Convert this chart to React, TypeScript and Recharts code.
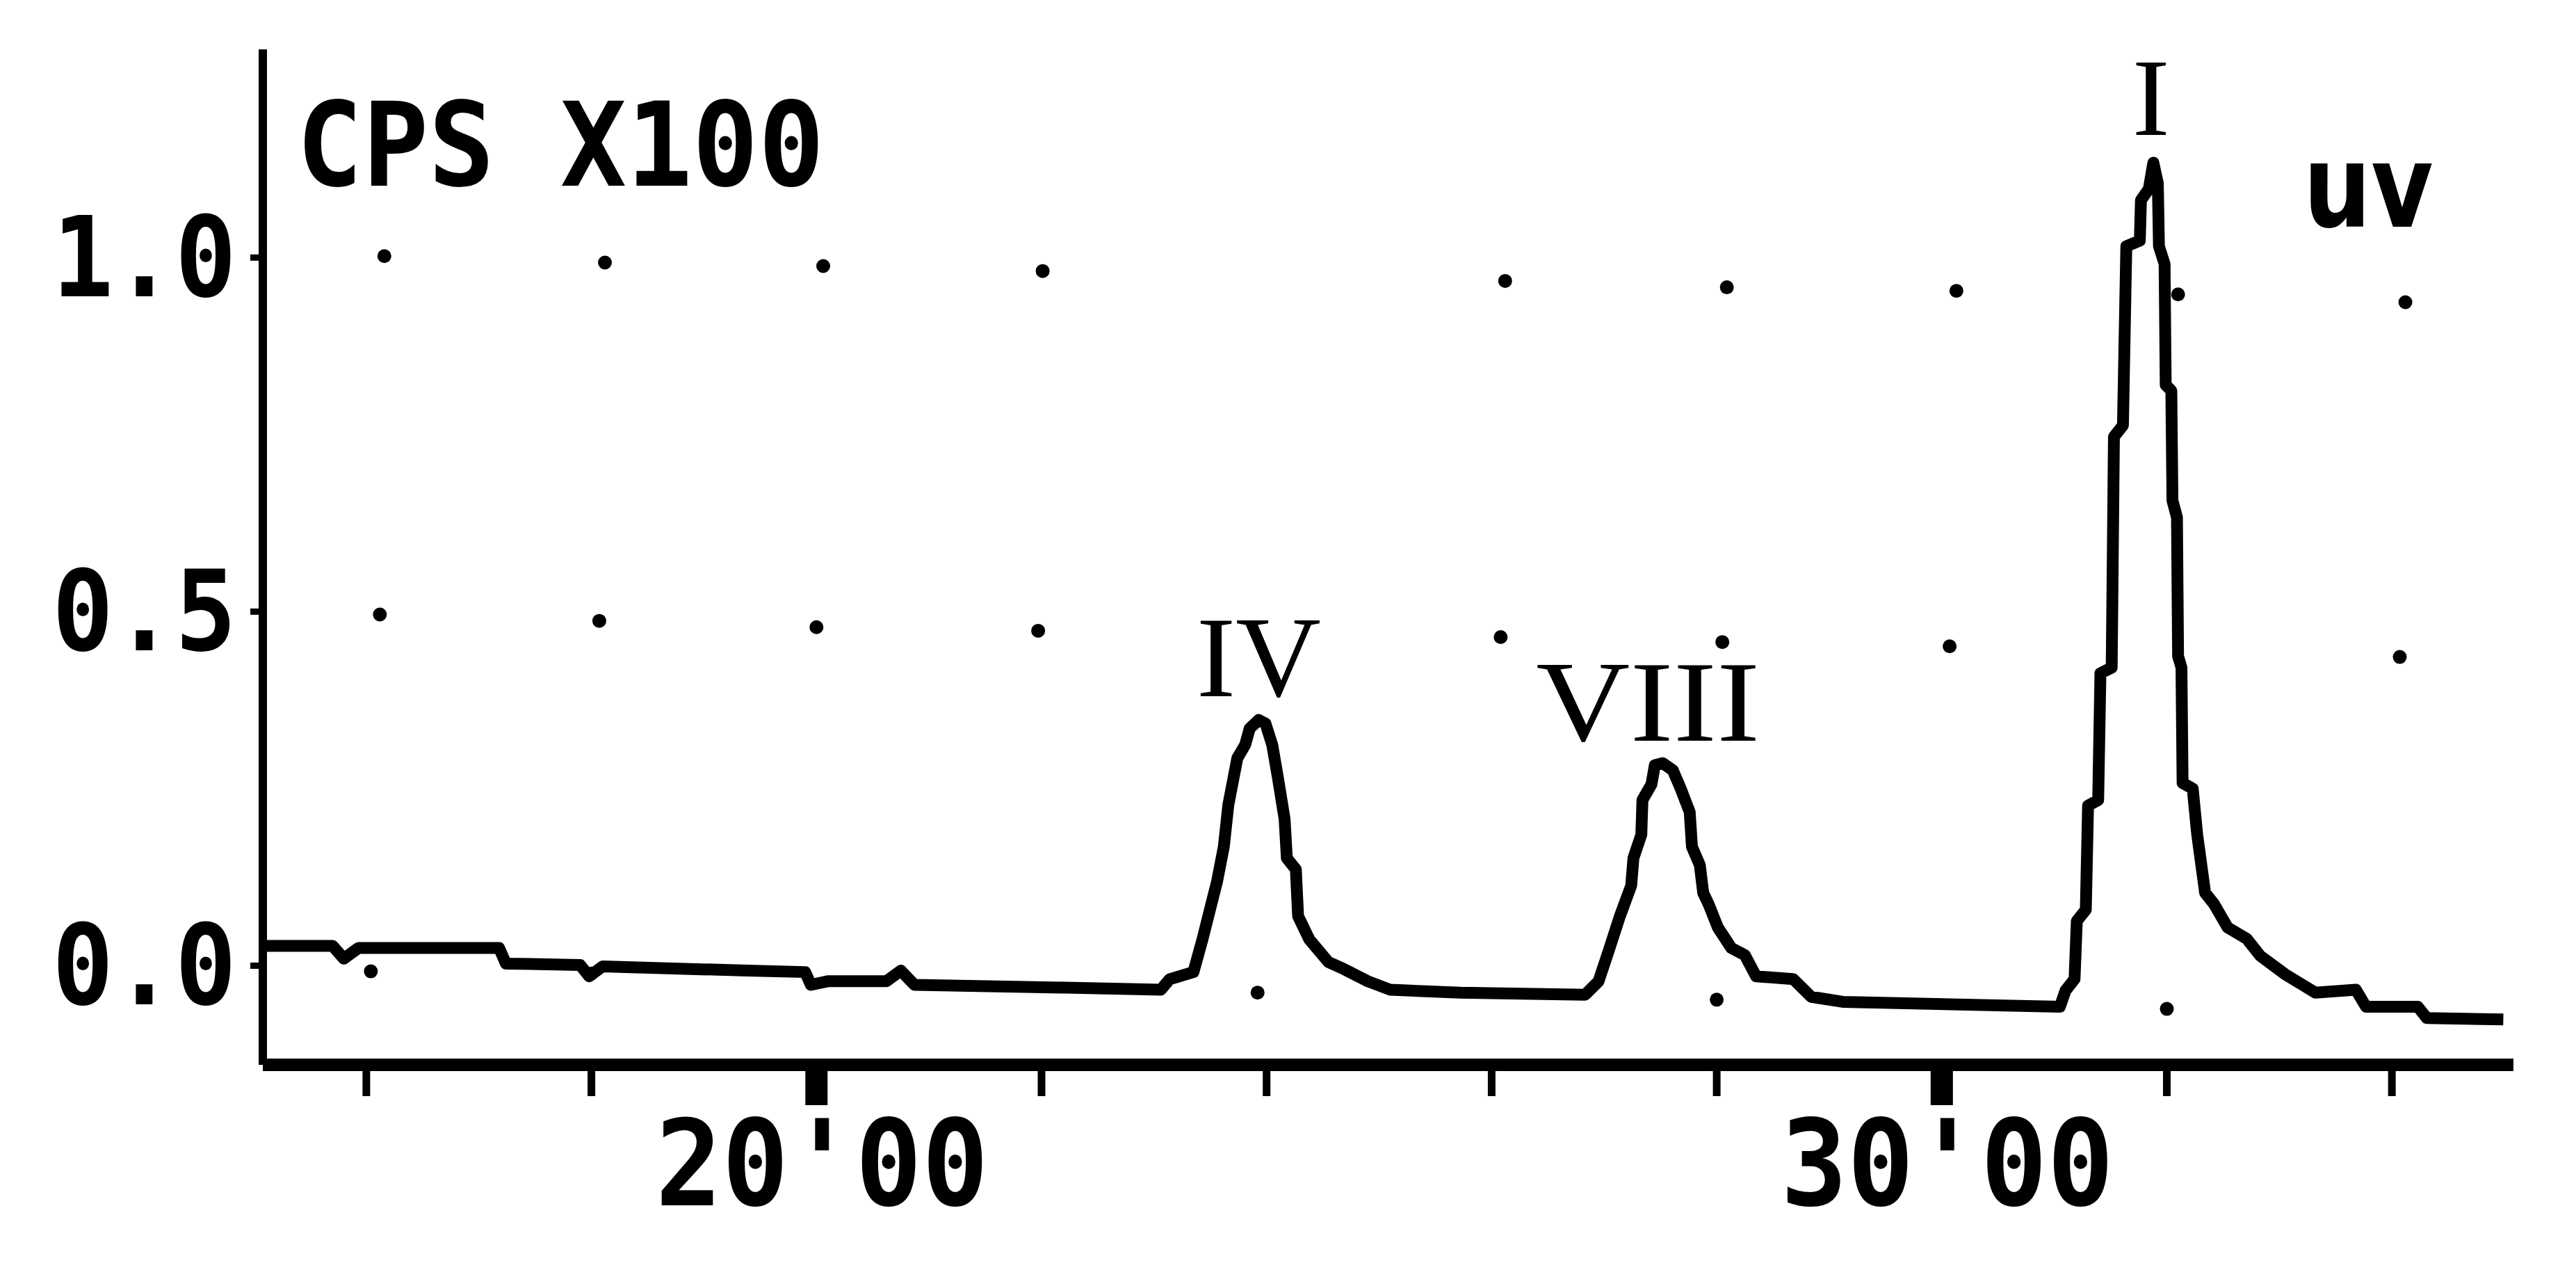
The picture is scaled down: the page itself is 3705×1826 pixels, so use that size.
import React from 'react';
import { ComposedChart, Line, Scatter, XAxis, YAxis } from 'recharts';

// retention time (min) and signal (CPS x100)
const traceT = [
    15.08, 15.7, 15.8, 15.93, 17.18, 17.24, 17.9, 17.98, 18.1, 19.39, 19.9, 19.95, 20.1, 20.62, 20.75, 20.87, 22.21, 23.06,
    23.14, 23.35, 23.43, 23.56, 23.62, 23.66, 23.74, 23.81, 23.85, 23.93, 23.99, 24.05, 24.1, 24.16, 24.18, 24.26, 24.28,
    24.38, 24.55, 24.69, 24.9, 25.1, 25.72, 26.83,
    26.95, 27.04, 27.14, 27.24, 27.26, 27.33, 27.34, 27.42, 27.45, 27.52, 27.61, 27.68, 27.76, 27.78, 27.85, 27.88, 27.93,
    28.01, 28.13, 28.25, 28.35, 28.68, 28.84, 29.12, 31.05,
    31.1, 31.18, 31.2, 31.28, 31.3, 31.39, 31.41, 31.51, 31.53, 31.61, 31.64, 31.76, 31.77, 31.84, 31.88, 31.92, 31.93,
    31.98, 31.99, 32.04, 32.05, 32.09, 32.1, 32.13, 32.14, 32.23, 32.27, 32.34, 32.42, 32.54, 32.71, 32.83, 33.05, 33.32,
    33.68, 33.77, 34.23, 34.31, 34.99
];
const traceV = [
    0.028, 0.028, 0.01, 0.025, 0.025, 0.003, 0.001, -0.015, -0.001, -0.007, -0.009, -0.027, -0.022, -0.022, -0.007, -0.027, -0.031, -0.034,
    -0.019, -0.009, 0.037, 0.119, 0.168, 0.227, 0.293, 0.312, 0.335, 0.347, 0.342, 0.312, 0.266, 0.207, 0.152, 0.136, 0.07,
    0.037, 0.005, -0.005, -0.022, -0.034, -0.038, -0.041,
    -0.022, 0.021, 0.07, 0.113, 0.152, 0.185, 0.234, 0.256, 0.283, 0.286, 0.276, 0.25, 0.217, 0.168, 0.142, 0.103, 0.086,
    0.054, 0.025, 0.015, -0.015, -0.019, -0.044, -0.051, -0.058,
    -0.035, -0.019, 0.063, 0.079, 0.226, 0.234, 0.413, 0.421, 0.747, 0.763, 1.016, 1.024, 1.081, 1.097, 1.134, 1.105, 1.016,
    0.991, 0.82, 0.812, 0.657, 0.633, 0.437, 0.421, 0.258, 0.25, 0.185, 0.103, 0.087, 0.054, 0.038, 0.014, -0.012, -0.038,
    -0.034, -0.058, -0.058, -0.074, -0.076
];

// plotter grid dots, three rows
const dotTopT = [16.16, 18.12, 20.06, 22.01, 26.12, 28.09, 30.13, 32.1, 34.12];
const dotTopV = [1.002, 0.993, 0.988, 0.981, 0.967, 0.958, 0.953, 0.948, 0.937];
const dotMidT = [16.12, 18.07, 20.0, 21.97, 26.08, 28.05, 30.07, 34.07];
const dotMidV = [0.496, 0.487, 0.478, 0.473, 0.464, 0.457, 0.451, 0.436];
const dotLowT = [16.04, 18.0, 23.92, 28.0, 32.0];
const dotLowV = [-0.008, -0.011, -0.038, -0.048, -0.061];

const xTicks = [16, 18, 20, 22, 24, 26, 28, 30, 32, 34];
const xTickLabels: Record<number, string> = { 20: "20'00", 30: "30'00" };
const yTicks = [0, 0.5, 1.0];

// annotations, anchored at the text baseline
const labelTexts = ['CPS X100', 'IV', 'VIII', 'I', 'uv'];
const labelT = [15.38, 23.93, 27.39, 31.86, 33.79];
const labelV = [1.101, 0.381, 0.318, 1.173, 1.044];

const MONO = '"DejaVu Sans Mono", "Liberation Mono", monospace';
const SERIF = '"Liberation Serif", "DejaVu Serif", serif';

const LABEL_STYLE: Record<string, any> = {
    'CPS X100': { fontFamily: MONO, fontSize: 168, anchor: 'start', len: 759, weight: 'bold' },
    IV: { fontFamily: SERIF, fontSize: 165, anchor: 'middle', len: 179, weight: 'normal' },
    VIII: { fontFamily: SERIF, fontSize: 165, anchor: 'middle', len: 322, weight: 'normal' },
    I: { fontFamily: SERIF, fontSize: 158, anchor: 'middle', len: 54, weight: 'normal' },
    uv: { fontFamily: '"DejaVu Sans", sans-serif', fontSize: 166, anchor: 'middle', len: 187, weight: 'bold' },
};

const trace = traceT.map((t, i) => ({ t, v: traceV[i] }));
const dots = [
    ...dotTopT.map((t, i) => ({ t, v: dotTopV[i] })),
    ...dotMidT.map((t, i) => ({ t, v: dotMidV[i] })),
    ...dotLowT.map((t, i) => ({ t, v: dotLowV[i] })),
];
const labels = labelTexts.map((text, i) => ({ t: labelT[i], v: labelV[i], text }));

const X_TICK_SIZE = 45;
const X_TICK_MARGIN = 20;

const XTick = (props: any) => {
    const { x, y, payload } = props;
    const label = xTickLabels[payload.value];
    const axisY = y - X_TICK_SIZE - X_TICK_MARGIN;
    return (
        <g>
            {label && <rect x={x - 16} y={axisY} width={32} height={58} fill="#000" />}
            {label && (
                <text
                    x={x + 8}
                    y={y + 137}
                    textAnchor="middle"
                    fontFamily={MONO}
                    fontWeight="bold"
                    fontSize={172}
                    textLength={479}
                    lengthAdjust="spacingAndGlyphs"
                    fill="#000"
                >
                    {label}
                </text>
            )}
        </g>
    );
};

const YTick = (props: any) => {
    const { x, y, payload } = props;
    return (
        <text
            x={x}
            y={y}
            textAnchor="end"
            dominantBaseline="central"
            fontFamily={MONO}
            fontWeight="bold"
            fontSize={160}
            textLength={265}
            lengthAdjust="spacingAndGlyphs"
            fill="#000"
        >
            {payload.value.toFixed(1)}
        </text>
    );
};

const GridDot = (props: any) => <circle cx={props.cx} cy={props.cy} r={10} fill="#000" />;

const Annotation = (props: any) => {
    const s = LABEL_STYLE[props.payload.text];
    return (
        <text
            x={props.cx}
            y={props.cy}
            textAnchor={s.anchor}
            fontFamily={s.fontFamily}
            fontSize={s.fontSize}
            fontWeight={s.weight}
            textLength={s.len}
            lengthAdjust="spacingAndGlyphs"
            fill="#000"
        >
            {props.payload.text}
        </text>
    );
};

const App: React.FC = () => {
    return (
        <div style={{ position: 'absolute', left: 0, top: 0, width: 3705, height: 1826, background: '#fff', overflow: 'hidden' }}>
            <ComposedChart width={3705} height={1826} margin={{ top: 71, right: 90, bottom: 45, left: 38 }}>
                <XAxis
                    type="number"
                    dataKey="t"
                    domain={[15.08, 35.08]}
                    allowDataOverflow
                    ticks={xTicks}
                    interval={0}
                    height={250}
                    axisLine={{ stroke: '#000', strokeWidth: 18 }}
                    tickLine={{ stroke: '#000', strokeWidth: 11 }}
                    tickSize={X_TICK_SIZE}
                    tickMargin={X_TICK_MARGIN}
                    tick={<XTick />}
                />
                <YAxis
                    type="number"
                    domain={[-0.14, 1.294]}
                    allowDataOverflow
                    ticks={yTicks}
                    interval={0}
                    width={340}
                    axisLine={{ stroke: '#000', strokeWidth: 12 }}
                    tickLine={{ stroke: '#000', strokeWidth: 9 }}
                    tickSize={18}
                    tickMargin={20}
                    tick={<YTick />}
                />
                {/* plotter grid dots */}
                <Scatter data={dots} dataKey="v" shape={<GridDot />} isAnimationActive={false} />
                {/* chromatogram trace */}
                <Line
                    data={trace}
                    dataKey="v"
                    type="linear"
                    stroke="#000"
                    strokeWidth={17}
                    strokeLinejoin="round"
                    dot={false}
                    activeDot={false}
                    isAnimationActive={false}
                />
                {/* peak names and axis caption */}
                <Scatter data={labels} dataKey="v" shape={<Annotation />} isAnimationActive={false} />
            </ComposedChart>
        </div>
    );
};

export default App;
